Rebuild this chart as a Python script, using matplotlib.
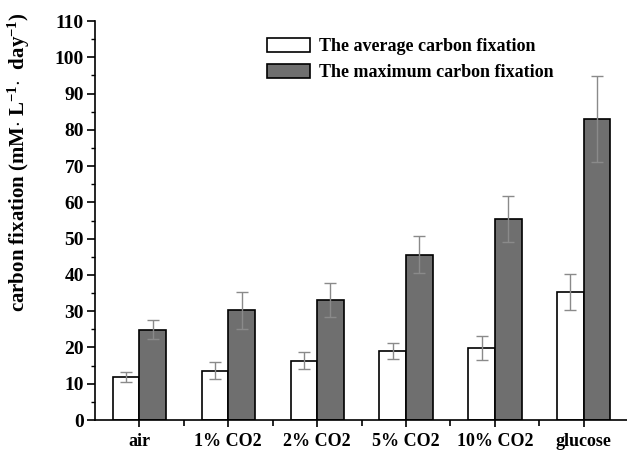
import matplotlib
matplotlib.use("Agg")
import matplotlib.pyplot as plt
import numpy as np

categories = ["air", "1% CO2", "2% CO2", "5% CO2", "10% CO2", "glucose"]
avg_vals = [11.8, 13.6, 16.4, 19.0, 19.9, 35.3]
avg_err = [1.3, 2.4, 2.3, 2.2, 3.3, 5.0]
max_vals = [24.9, 30.2, 33.1, 45.5, 55.4, 83.0]
max_err = [2.7, 5.0, 4.8, 5.1, 6.3, 11.9]
legend_labels = ["The average carbon fixation", "The maximum carbon fixation"]

plt.rcParams['font.family'] = ['Liberation Serif', 'DejaVu Serif']
plt.rcParams['font.weight'] = 'bold'
plt.rcParams['mathtext.fontset'] = 'custom'
plt.rcParams['mathtext.rm'] = 'Liberation Serif:bold'
plt.rcParams['mathtext.bf'] = 'Liberation Serif:bold'
plt.rcParams['mathtext.it'] = 'Liberation Serif:bold'

fig = plt.figure(figsize=(6.27, 4.51), dpi=100)
ax = fig.add_axes([0.1515, 0.0687, 0.849, 0.8847])

x = np.arange(len(categories))
w = 0.30
ekw = dict(ecolor='#8a8a8a', elinewidth=1.0, capsize=4, capthick=1.0)
ax.bar(x - w/2, avg_vals, w, yerr=avg_err, color='white', edgecolor='black',
       linewidth=1.2, error_kw=ekw, label=legend_labels[0])
ax.bar(x + w/2, max_vals, w, yerr=max_err, color='#6f6f6f', edgecolor='black',
       linewidth=1.2, error_kw=ekw, label=legend_labels[1])

ax.set_xlim(-0.5, 5.49)
ax.set_ylim(0, 110)
ax.set_yticks(np.arange(0, 111, 10))
ax.set_yticks(np.arange(0, 111, 5), minor=True)
ax.set_xticks(x)
ax.set_xticks(x[:-1] + 0.5, minor=True)
ax.set_xticklabels(categories, fontsize=13, fontweight='bold')
for lab in ax.get_yticklabels():
    lab.set_fontsize(14)
    lab.set_fontweight('bold')

ax.spines['top'].set_visible(False)
ax.spines['right'].set_visible(False)
ax.spines['left'].set_linewidth(1.2)
ax.spines['bottom'].set_linewidth(1.2)
ax.tick_params(axis='y', which='major', direction='out', length=6, width=1.2, pad=2)
ax.tick_params(axis='y', which='minor', direction='out', length=3, width=1.0)
ax.tick_params(axis='x', which='major', direction='out', length=5, width=1.2, pad=4)
ax.tick_params(axis='x', which='minor', direction='out', length=4, width=1.2)

ax.set_ylabel(r"carbon fixation (mM$\cdot$ L$^{\mathbf{-1}}$$\cdot$  day$^{\mathbf{-1}}$)",
              fontsize=15, fontweight='bold')
ax.yaxis.set_label_coords(-0.118, 0.647)

leg = ax.legend(loc='upper left', bbox_to_anchor=(0.309, 0.975), frameon=False,
                fontsize=13, handlelength=2.4, handleheight=0.75,
                handletextpad=0.5, labelspacing=0.5, borderaxespad=0)
for t in leg.get_texts():
    t.set_fontweight('bold')

fig.savefig("out.png", dpi=100)
